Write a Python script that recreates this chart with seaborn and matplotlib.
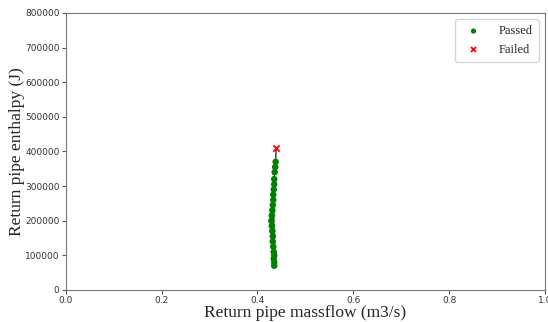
import matplotlib
matplotlib.use("Agg")
import matplotlib.pyplot as plt
import seaborn as sns
import pandas as pd

massflow_passed = [0.435, 0.435, 0.434, 0.435, 0.434, 0.433, 0.432, 0.432, 0.431, 0.430, 0.429, 0.430,
                   0.431, 0.432, 0.433, 0.433, 0.434, 0.435, 0.435, 0.436, 0.437, 0.438]
enthalpy_passed = [70000, 80000, 90000, 100000, 110000, 125000, 140000, 155000, 170000, 185000, 200000, 215000,
                   230000, 245000, 260000, 275000, 290000, 305000, 320000, 340000, 355000, 370000]
massflow_failed = [0.439]
enthalpy_failed = [410000]

line_x = massflow_passed + massflow_failed
line_y = enthalpy_passed + enthalpy_failed

df_line = pd.DataFrame({"x": line_x, "y": line_y})
df_pass = pd.DataFrame({"x": massflow_passed, "y": enthalpy_passed})
df_fail = pd.DataFrame({"x": massflow_failed, "y": enthalpy_failed})

sns.set_style("white")
fig = plt.figure(figsize=(5.48, 3.22), dpi=100)
ax = fig.add_axes([0.12, 0.0994, 0.8745, 0.8606])

sns.scatterplot(data=df_pass, x="x", y="y", color="green", marker="o", s=22, edgecolor="none",
                label="Passed", ax=ax, zorder=3)
sns.scatterplot(data=df_fail, x="x", y="y", color="red", marker="x", s=20, linewidth=1.3,
                label="Failed", ax=ax, zorder=4)
sns.lineplot(data=df_line, x="x", y="y", sort=False, color="black", linewidth=0.8, ax=ax, zorder=2,
             legend=False)

ax.set_xlim(0, 1.0)
ax.set_ylim(0, 800000)
ax.set_xticks([0.0, 0.2, 0.4, 0.6, 0.8, 1.0])
ax.set_yticks([0, 100000, 200000, 300000, 400000, 500000, 600000, 700000, 800000])
ax.tick_params(axis="both", labelsize=6.5, length=3, pad=1.5, color="#555555", labelcolor="#333333", direction="out")
ax.tick_params(bottom=True, left=True)
for s in ax.spines.values():
    s.set_color("#777777")
    s.set_linewidth(0.8)

ax.set_xlabel("Return pipe massflow (m3/s)", family="Liberation Serif", fontsize=12.5, labelpad=0)
ax.set_ylabel("Return pipe enthalpy (J)", family="Liberation Serif", fontsize=12.5, labelpad=0)

handles, labels = ax.get_legend_handles_labels()
leg = ax.legend(handles[:2], labels[:2], loc="upper right",
                prop={"family": "Liberation Serif", "size": 9}, frameon=True,
                handletextpad=1.0, borderpad=0.5, labelspacing=0.5, markerscale=0.8)

fig.savefig("out.png", dpi=100)
